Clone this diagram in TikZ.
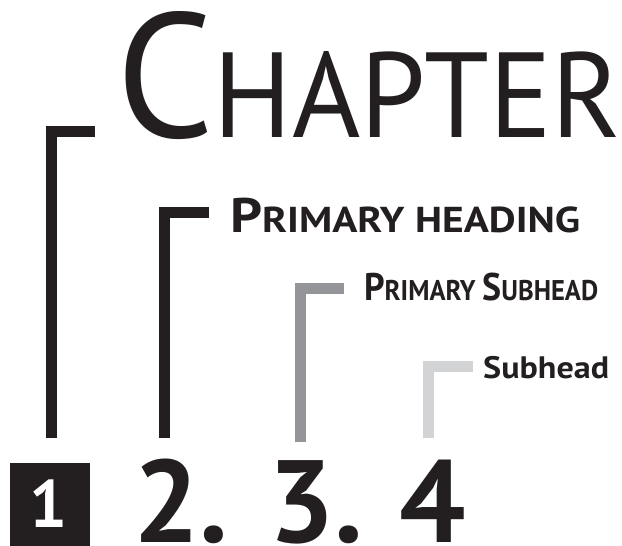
\documentclass[tikz,border=0pt]{standalone}
\usepackage{fontspec}
\setmainfont{PT Sans}
\definecolor{ink}{HTML}{231F20}
\definecolor{midgray}{HTML}{939598}
\definecolor{palegray}{HTML}{D1D3D4}
\newcommand{\fsz}[1]{\fontsize{#1}{#1}\selectfont}
\newcommand{\fitw}[2]{\resizebox{#1}{\height}{#2}}

\begin{document}
\begin{tikzpicture}[x=1pt,y=-1pt,
  every node/.style={inner sep=0pt,anchor=base west,text=ink},
  bracket/.style={line width=11pt,line join=miter}]
  \useasboundingbox (0,0) rectangle (622,546);
  % headings
  \node (chapter) at (116,137) {\fitw{505pt}{\fsz{177}C\fsz{121}HAPTER}};
  \node (primary) at (230,232) {\fitw{350pt}{\bfseries\fsz{48.5}P\fsz{36}RIMARY HEADING}};
  \node (psub) at (364,300) {\fitw{234pt}{\bfseries\fsz{38.5}P\fsz{28.5}RIMARY \fsz{38.5}S\fsz{28.5}UBHEAD}};
  \node (sub) at (483,378) {\fitw{126pt}{\bfseries\fsz{31}Subhead}};
  % numbers
  \fill[ink] (10,463) rectangle (90,546);
  \node[anchor=base,text=white] (n1) at (48.5,527) {\bfseries\fsz{67}1};
  \node (n2) at (133,542) {\bfseries\fsz{117}2.};
  \node (n3) at (268,542) {\bfseries\fsz{117}3.};
  \node (n4) at (399,542) {\bfseries\fsz{117}4};
  % brackets
  \draw[bracket,ink] (51,438) |- (95,131.5);
  \draw[bracket,ink] (164.5,438) |- (209,212.5);
  \draw[bracket,midgray] (300.5,442) |- (344,288.5);
  \draw[bracket,palegray] (428.5,438) |- (473,366.5);
\end{tikzpicture}
\end{document}
